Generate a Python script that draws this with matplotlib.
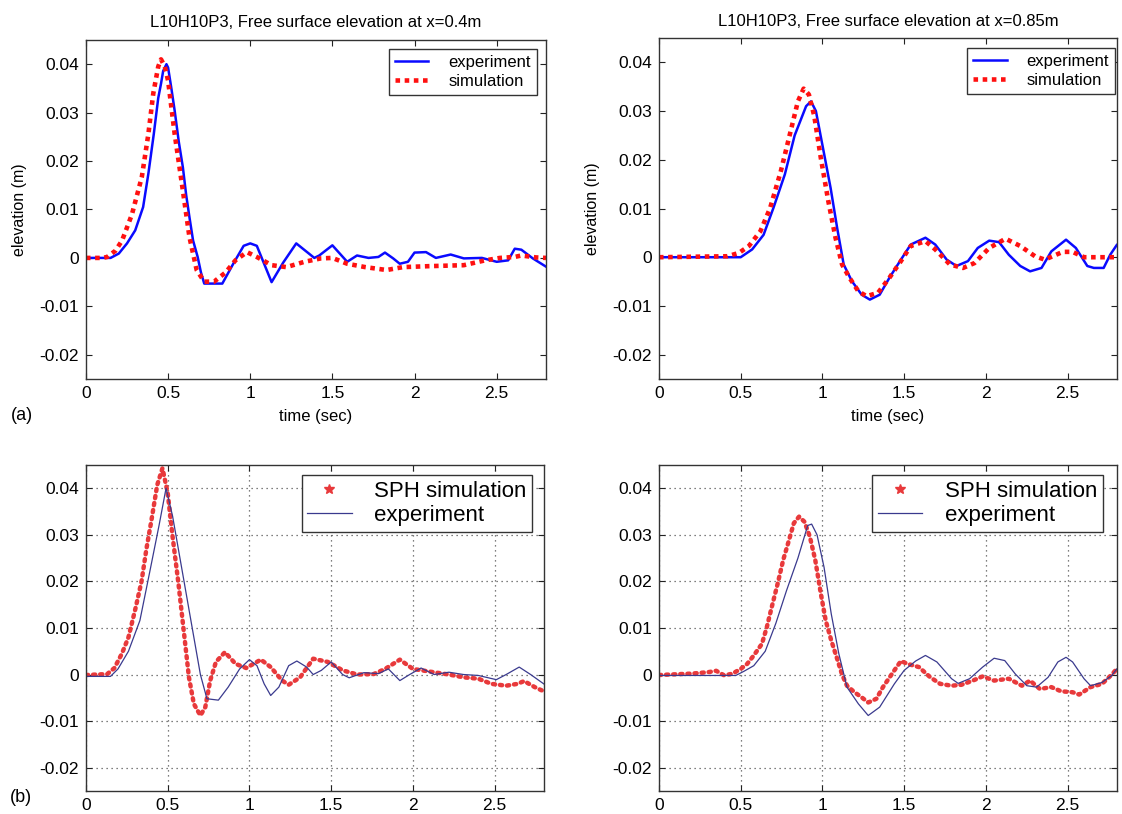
import matplotlib.pyplot as plt
from matplotlib.lines import Line2D


# (a) top left, x = 0.4 m
TOP_LEFT_EXP_T = [0, 0.15, 0.2, 0.25, 0.3, 0.348, 0.38, 0.413, 0.44, 0.457, 0.47, 0.49, 0.5, 0.52, 0.54, 0.565, 0.59, 0.61, 0.63, 0.652, 0.68, 0.70, 0.72, 0.83, 0.9, 0.96, 1.0, 1.04, 1.13, 1.2, 1.28, 1.39, 1.42, 1.5, 1.59, 1.65, 1.72, 1.78, 1.82, 1.87, 1.91, 1.96, 2.0, 2.07, 2.13, 2.22, 2.30, 2.41, 2.5, 2.57, 2.61, 2.65, 2.72, 2.80]
TOP_LEFT_EXP_Y = [0, 0, 0.0009, 0.003, 0.0057, 0.0105, 0.0174, 0.0256, 0.033, 0.036, 0.0386, 0.040, 0.0393, 0.035, 0.0304, 0.024, 0.0187, 0.013, 0.0084, 0.0036, 0.0002, -0.003, -0.0053, -0.0053, -0.001, 0.0025, 0.003, 0.0025, -0.005, -0.001, 0.003, 0, 0.0005, 0.0026, -0.0008, 0.0005, 0, 0.0002, 0.0011, -0.0001, -0.0012, -0.0008, 0.0011, 0.0012, 0, 0.0007, -0.0001, 0, -0.0008, -0.0005, 0.0019, 0.0017, -0.0001, -0.0018]
TOP_LEFT_SIM_T = [0, 0.1, 0.13, 0.18, 0.22, 0.28, 0.34, 0.38, 0.41, 0.44, 0.457, 0.48, 0.5, 0.54, 0.587, 0.63, 0.674, 0.72, 0.78, 0.85, 0.91, 0.98, 1.04, 1.13, 1.22, 1.33, 1.43, 1.5, 1.59, 1.70, 1.83, 1.93, 2.09, 2.30, 2.43, 2.52, 2.61, 2.65, 2.74, 2.80]
TOP_LEFT_SIM_Y = [0, 0, 0.0002, 0.0015, 0.0036, 0.009, 0.0167, 0.0256, 0.034, 0.0395, 0.041, 0.0395, 0.0366, 0.0256, 0.0146, 0.0043, -0.0025, -0.0049, -0.0049, -0.003, -0.0005, 0.0012, 0.0002, -0.0015, -0.0019, -0.0008, -0.0001, 0, -0.0012, -0.0019, -0.0025, -0.0019, -0.0017, -0.0015, -0.0005, 0, 0.0002, 0.0005, 0.0001, 0]

# (a) top right, x = 0.85 m
TOP_RIGHT_EXP_T = [0, 0.5, 0.57, 0.64, 0.70, 0.77, 0.83, 0.90, 0.93, 0.96, 1.0, 1.05, 1.09, 1.13, 1.18, 1.24, 1.29, 1.35, 1.41, 1.48, 1.54, 1.63, 1.69, 1.76, 1.82, 1.89, 1.95, 2.02, 2.08, 2.14, 2.21, 2.27, 2.34, 2.40, 2.49, 2.55, 2.62, 2.66, 2.72, 2.76, 2.80]
TOP_RIGHT_EXP_Y = [0, 0, 0.0016, 0.0046, 0.0101, 0.017, 0.025, 0.031, 0.032, 0.030, 0.023, 0.0142, 0.006, -0.0015, -0.0049, -0.0077, -0.0087, -0.0077, -0.0042, -0.0005, 0.0026, 0.004, 0.0026, -0.0005, -0.0018, -0.0008, 0.0019, 0.0034, 0.0031, 0.0005, -0.0018, -0.0029, -0.0022, 0.0012, 0.0036, 0.0019, -0.0018, -0.0022, -0.0022, 0.0005, 0.0025]
TOP_RIGHT_SIM_T = [0, 0.42, 0.49, 0.55, 0.62, 0.68, 0.745, 0.81, 0.85, 0.885, 0.917, 0.95, 0.99, 1.036, 1.08, 1.12, 1.165, 1.22, 1.27, 1.34, 1.41, 1.48, 1.54, 1.63, 1.69, 1.78, 1.86, 1.93, 2.02, 2.12, 2.21, 2.30, 2.36, 2.47, 2.53, 2.60, 2.80]
TOP_RIGHT_SIM_Y = [0, 0.0002, 0.0009, 0.0023, 0.0053, 0.0101, 0.0176, 0.0265, 0.032, 0.0346, 0.0334, 0.029, 0.0204, 0.0115, 0.004, -0.0015, -0.0042, -0.007, -0.008, -0.0073, -0.0042, -0.0008, 0.0023, 0.0033, 0.0016, -0.0015, -0.0022, -0.0012, 0.0019, 0.0038, 0.0023, 0.0002, -0.0005, 0.0011, 0.0011, 0, 0]

# (b) bottom left, x = 0.4 m
BOTTOM_LEFT_EXP_T = [0, 0.15, 0.196, 0.26, 0.33, 0.39, 0.447, 0.49, 0.53, 0.59, 0.65, 0.70, 0.74, 0.81, 0.87, 0.94, 1.0, 1.046, 1.09, 1.13, 1.18, 1.24, 1.29, 1.35, 1.39, 1.44, 1.50, 1.57, 1.61, 1.70, 1.79, 1.85, 1.92, 1.98, 2.05, 2.13, 2.22, 2.31, 2.40, 2.51, 2.57, 2.65, 2.72, 2.80]
BOTTOM_LEFT_EXP_Y = [-0.0004, -0.0004, 0.0012, 0.005, 0.0116, 0.022, 0.032, 0.040, 0.034, 0.022, 0.010, 0, -0.0052, -0.0055, -0.0027, 0.0012, 0.0032, 0.0019, -0.002, -0.0045, -0.0027, 0.0019, 0.0029, 0.0016, 0, 0.0009, 0.0027, 0, -0.0007, 0.0004, 0.0002, 0.0012, -0.0013, 0, 0.0014, 0, 0.0005, 0, -0.0002, -0.0011, 0, 0.0016, 0, -0.002]
BOTTOM_LEFT_SPH_T = [0, 0.13, 0.174, 0.22, 0.26, 0.305, 0.34, 0.37, 0.40, 0.436, 0.468, 0.5, 0.53, 0.566, 0.60, 0.63, 0.66, 0.70, 0.73, 0.76, 0.795, 0.85, 0.915, 0.98, 1.07, 1.13, 1.20, 1.24, 1.31, 1.39, 1.48, 1.57, 1.66, 1.76, 1.83, 1.92, 2.0, 2.09, 2.22, 2.31, 2.40, 2.48, 2.57, 2.64, 2.68, 2.745, 2.80]
BOTTOM_LEFT_SPH_Y = [-0.0001, 0.0001, 0.0014, 0.0045, 0.008, 0.0145, 0.02, 0.027, 0.033, 0.0407, 0.0443, 0.039, 0.0296, 0.0195, 0.0088, -0.0006, -0.0063, -0.0088, -0.007, -0.0013, 0.0027, 0.0048, 0.0023, 0.0014, 0.0032, 0.0016, -0.0013, -0.0022, -0.0006, 0.0034, 0.0027, 0.0009, 0, 0.0001, 0.0012, 0.0032, 0.0012, 0.0007, 0, -0.0006, -0.0009, -0.002, -0.0024, -0.002, -0.0014, -0.0027, -0.0036]

# (b) bottom right, x = 0.85 m
BOTTOM_RIGHT_EXP_T = [0, 0.47, 0.52, 0.58, 0.65, 0.715, 0.78, 0.85, 0.91, 0.934, 0.967, 1.01, 1.054, 1.10, 1.15, 1.22, 1.28, 1.35, 1.44, 1.50, 1.57, 1.63, 1.70, 1.79, 1.83, 1.90, 1.98, 2.05, 2.115, 2.18, 2.25, 2.31, 2.38, 2.44, 2.49, 2.53, 2.60, 2.64, 2.71, 2.77, 2.80]
BOTTOM_RIGHT_EXP_Y = [-0.0002, -0.0002, 0.0007, 0.0019, 0.005, 0.011, 0.018, 0.025, 0.032, 0.0323, 0.030, 0.023, 0.013, 0.0045, -0.0027, -0.0063, -0.0088, -0.007, -0.002, 0.0009, 0.0029, 0.0041, 0.0027, -0.0009, -0.0019, -0.0009, 0.0016, 0.0035, 0.003, 0.0001, -0.0024, -0.0027, -0.0006, 0.0027, 0.0037, 0.0027, -0.0009, -0.0024, -0.0017, -0.0002, 0.0012]
BOTTOM_RIGHT_SPH_T = [0, 0.2, 0.3, 0.35, 0.4, 0.45, 0.5, 0.54, 0.58, 0.63, 0.66, 0.69, 0.726, 0.76, 0.79, 0.825, 0.857, 0.89, 0.923, 0.956, 0.99, 1.02, 1.054, 1.087, 1.12, 1.15, 1.196, 1.24, 1.28, 1.33, 1.37, 1.44, 1.48, 1.52, 1.59, 1.66, 1.72, 1.79, 1.85, 1.92, 1.98, 2.05, 2.14, 2.22, 2.27, 2.33, 2.40, 2.46, 2.53, 2.57, 2.64, 2.71, 2.77, 2.80]
BOTTOM_RIGHT_SPH_Y = [-0.0001, 0.0002, 0.0005, 0.0008, -0.0002, 0.0002, 0.0012, 0.0023, 0.0041, 0.0066, 0.0102, 0.0145, 0.0195, 0.0246, 0.0282, 0.0325, 0.0339, 0.0328, 0.0296, 0.0246, 0.0174, 0.0116, 0.0073, 0.0037, 0, -0.0024, -0.0038, -0.0049, -0.006, -0.0052, -0.0027, 0.0009, 0.0029, 0.0023, 0.0016, -0.0006, -0.002, -0.0024, -0.0022, -0.0013, -0.0004, -0.0013, -0.0009, -0.0024, -0.0013, -0.0031, -0.0027, -0.0036, -0.0038, -0.0043, -0.0027, -0.002, 0, 0.0012]

X_TICKS = [0, 0.5, 1, 1.5, 2, 2.5]
Y_TICKS = [-0.02, -0.01, 0, 0.01, 0.02, 0.03, 0.04]
X_TICK_LABELS = ["0", "0.5", "1", "1.5", "2", "2.5"]
Y_TICK_LABELS = ["-0.02", "-0.01", "0", "0.01", "0.02", "0.03", "0.04"]

TOP_TITLES = [
	"L10H10P3, Free surface elevation at x=0.4m",
	"L10H10P3, Free surface elevation at x=0.85m",
]

BLUE = "#0a0aff"
RED = "#ff1010"
NAVY = "#3a3a8e"
SPH_RED = "#e8393b"


def styleAxes(ax):
	ax.set_xlim(0, 2.8)
	ax.set_ylim(-0.025, 0.045)
	ax.set_xticks(X_TICKS)
	ax.set_xticklabels(X_TICK_LABELS)
	ax.set_yticks(Y_TICKS)
	ax.set_yticklabels(Y_TICK_LABELS)
	ax.tick_params(axis="both", direction="in", length=4, width=0.8, labelsize=12.5,
		top=True, right=True, pad=5, colors="#222222", labelcolor="black")
	for spine in ax.spines.values():
		spine.set_linewidth(1.0)
		spine.set_color("#333333")


def drawTopPanel(ax, exp_t, exp_y, sim_t, sim_y, title):
	ax.plot(exp_t, exp_y, color=BLUE, linewidth=1.8, label="experiment")
	ax.plot(sim_t, sim_y, color=RED, linewidth=3.3, linestyle=(0, (1, 1)),
		dash_capstyle="butt", label="simulation")
	styleAxes(ax)
	ax.set_title(title, fontsize=12, pad=9)
	ax.set_xlabel("time (sec)", fontsize=12, labelpad=6)
	ax.set_ylabel("elevation (m)", fontsize=11.5, labelpad=9)


def drawBottomPanel(ax, exp_t, exp_y, sph_t, sph_y):
	# dense SPH samples look like a thick beaded trace
	ax.plot(sph_t, sph_y, color=SPH_RED, linewidth=3.2, linestyle=(0, (0.5, 1.1)),
		dash_capstyle="round")
	ax.plot(exp_t, exp_y, color=NAVY, linewidth=0.9)
	styleAxes(ax)
	ax.grid(True, linestyle=(0, (1, 3)), color="#555555", linewidth=0.9)


def addTopLegend(ax, anchor):
	legend = ax.legend(loc="upper right", bbox_to_anchor=anchor, borderaxespad=0,
		fontsize=12, fancybox=False, framealpha=1, edgecolor="#333333",
		handlelength=2.0, handletextpad=1.2, borderpad=0.35, labelspacing=0.25)
	legend.get_frame().set_linewidth(1.0)


def addBottomLegend(ax, anchor):
	handles = [
		Line2D([], [], color=SPH_RED, marker="*", markersize=7, linestyle="none"),
		Line2D([], [], color=NAVY, linewidth=0.9),
	]
	legend = ax.legend(handles, ["SPH simulation", "experiment"], loc="upper right",
		bbox_to_anchor=anchor, borderaxespad=0, fontsize=16, fancybox=False,
		framealpha=1, edgecolor="#333333", handlelength=2.0, handletextpad=1.0,
		borderpad=0.25, labelspacing=0.15)
	legend.get_frame().set_linewidth(1.0)


def main():
	plt.rcParams["font.family"] = ["Liberation Sans", "DejaVu Sans"]
	fig = plt.figure(figsize=(11.22, 8.14), dpi=100)

	ax_tl = fig.add_axes([0.0766, 0.5344, 0.410, 0.4165])
	ax_tr = fig.add_axes([0.5873, 0.5344, 0.408, 0.4189])
	ax_bl = fig.add_axes([0.0766, 0.0283, 0.408, 0.4005])
	ax_br = fig.add_axes([0.5873, 0.0283, 0.408, 0.4005])

	drawTopPanel(ax_tl, TOP_LEFT_EXP_T, TOP_LEFT_EXP_Y, TOP_LEFT_SIM_T, TOP_LEFT_SIM_Y, TOP_TITLES[0])
	drawTopPanel(ax_tr, TOP_RIGHT_EXP_T, TOP_RIGHT_EXP_Y, TOP_RIGHT_SIM_T, TOP_RIGHT_SIM_Y, TOP_TITLES[1])
	addTopLegend(ax_tl, (0.980, 0.973))
	addTopLegend(ax_tr, (0.996, 0.971))

	drawBottomPanel(ax_bl, BOTTOM_LEFT_EXP_T, BOTTOM_LEFT_EXP_Y, BOTTOM_LEFT_SPH_T, BOTTOM_LEFT_SPH_Y)
	drawBottomPanel(ax_br, BOTTOM_RIGHT_EXP_T, BOTTOM_RIGHT_EXP_Y, BOTTOM_RIGHT_SPH_T, BOTTOM_RIGHT_SPH_Y)
	addBottomLegend(ax_bl, (0.974, 0.969))
	addBottomLegend(ax_br, (0.969, 0.969))

	# panel tags at the left margin
	fig.text(22 / 1122, 1 - 415 / 814, "(a)", fontsize=13, ha="center", va="center")
	fig.text(21 / 1122, 1 - 798 / 814, "(b)", fontsize=13, ha="center", va="center")

	fig.savefig("out.png", dpi=100)
	plt.close(fig)


if __name__ == "__main__":
	main()
